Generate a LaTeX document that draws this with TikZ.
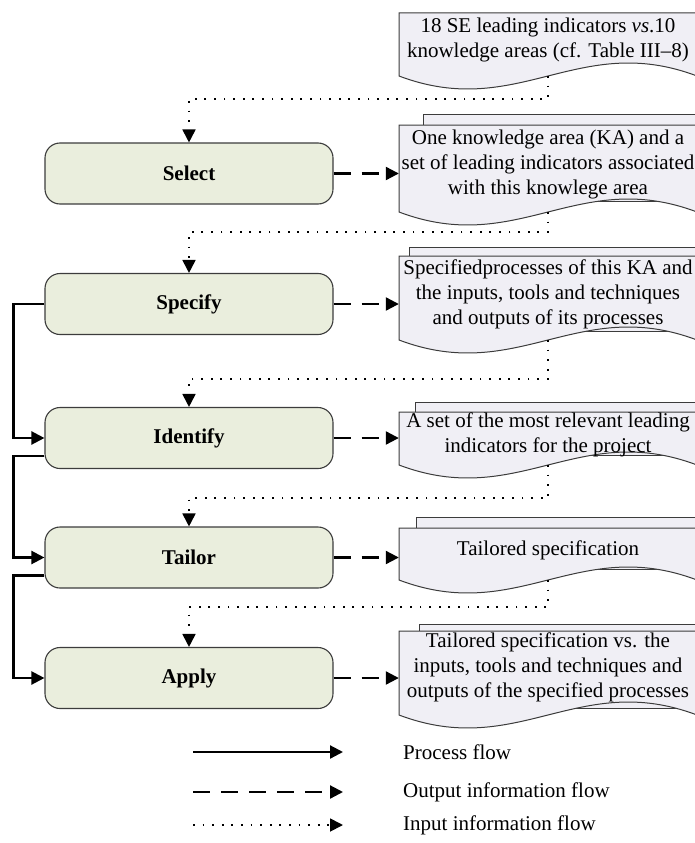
\documentclass[tikz,border=0pt]{standalone}
\usepackage{fontspec}
\setmainfont{Liberation Serif}
\usetikzlibrary{arrows.meta}
\usetikzlibrary{calc,backgrounds}

\definecolor{procfill}{RGB}{234,238,221}
\definecolor{docfill}{RGB}{240,239,245}
\definecolor{edge}{RGB}{60,60,60}

\tikzset{
  proc/.style={draw=edge, fill=procfill, line width=1.1pt, rounded corners=15pt,
    minimum width=288pt, minimum height=61pt, font=\fontsize{21}{25}\selectfont\bfseries},
  docu/.style={minimum width=298pt, inner sep=0pt, align=center,
    font=\fontsize{21}{25}\selectfont},
  sheet/.style={draw=edge, fill=docfill, line width=1pt},
  pflow/.style={line width=2.2pt, -{Triangle[length=13pt,width=13pt]}},
  oflow/.style={line width=2.2pt, dash pattern=on 17pt off 11pt, -{Triangle[length=13pt,width=13pt]}},
  iflow/.style={line width=1.8pt, dash pattern=on 1.8pt off 7.8pt, -{Triangle[length=13pt,width=13pt]}},
}

\begin{document}
\begin{tikzpicture}[x=1pt,y=-1pt]
\useasboundingbox (0,0) rectangle (694,843);

% steps
\node[proc] (sel) at (189,173.5) {Select};
\node[proc] (spec) at (189,304) {Specify};
\node[proc] (ident) at (189,438) {Identify};
\node[proc] (tail) at (189,557.5) {Tailor};
\node[proc] (appl) at (189,678) {Apply};

% documents
\node[docu] (d1) at (548,40) {18 SE leading indicators \textit{vs}.10\\knowledge areas (cf. Table III--8)};
\node[docu] (d2) at (548,164) {One knowledge area (KA) and a\\set of leading indicators associated\\with this knowlege area};
\node[docu] (d3) at (548,294) {Specifiedprocesses of this KA and\\the inputs, tools and techniques\\and outputs of its processes};
\node[docu] (d4) at (548,434.5) {A set of the most relevant leading\\indicators for the project};
\node[docu] (d5) at (548,550) {Tailored specification};
\node[docu] (d6) at (548,667) {Tailored specification vs. the\\inputs, tools and techniques and\\outputs of the specified processes};

\begin{scope}[on background layer]
\foreach \d/\top/\bot/\dx/\dy in {d2/125/212/24/11, d3/256/340/10/9, d4/412/465/16/10, d5/528/580/17/11, d6/631/715/20/7}
    \filldraw[sheet] (399+\dx,\top-\dy) rectangle (697+\dx,\bot-\dy);
\foreach \d/\top/\bot in {d1/13/76, d2/125/212, d3/256/340, d4/412/465, d5/528/580, d6/631/715}{
    \filldraw[sheet] (399,\top) -- (697,\top) -- (697,\bot)
      .. controls (578,\bot-45) and (518,\bot+45) .. (399,\bot) -- cycle;
    \coordinate (\d-b) at (548,\bot);
}
\end{scope}

% input information
\foreach \from/\to/\gap in {d1/sel/23, d2/spec/20, d3/ident/39, d4/tail/33, d5/appl/27}
    \draw[iflow] (\from-b) -- ++(0,\gap) -| (\to.north);

% output information
\foreach \from/\to in {sel/d2, spec/d3, ident/d4, tail/d5, appl/d6}
    \draw[oflow] (\from.east) -- (\from.east -| \to.west);

% process flow
\draw[pflow] (spec.west) -- ++(-31,0) |- (ident.west);
\draw[pflow] ([yshift=-18pt]ident.west) -- ++(-31,0) |- (tail.west);
\draw[pflow] ([yshift=-18pt]tail.west) -- ++(-31,0) |- (appl.west);

% legend
\coordinate (l1s) at (193,752);
\coordinate (l1e) at (343,752);
\coordinate (l2s) at (193,792);
\coordinate (l2e) at (343,792);
\coordinate (l3s) at (193,825);
\coordinate (l3e) at (343,825);
\draw[pflow] (l1s) -- (l1e);
\draw[oflow] (l2s) -- (l2e);
\draw[iflow] (l3s) -- (l3e);
\node[anchor=west, inner sep=0pt, font=\fontsize{21}{25}\selectfont] (t1) at (403,752) {Process flow};
\node[anchor=west, inner sep=0pt, font=\fontsize{21}{25}\selectfont] (t2) at (403,792) {Output information flow};
\node[anchor=west, inner sep=0pt, font=\fontsize{21}{25}\selectfont] (t3) at (403,825) {Input information flow};

\end{tikzpicture}
\end{document}
